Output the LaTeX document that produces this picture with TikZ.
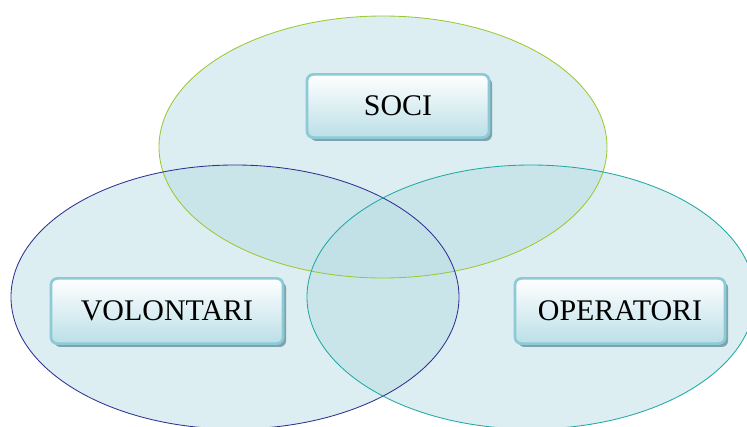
\documentclass[tikz,border=0pt]{standalone}
\usepackage{fontspec}
\setmainfont{Liberation Serif}
\usetikzlibrary{shadows}

\definecolor{setfill}{HTML}{B9DDE3}
\definecolor{sociline}{HTML}{9CC832}
\definecolor{volline}{HTML}{2E3192}
\definecolor{opline}{HTML}{1FA9A5}
\definecolor{boxline}{HTML}{8CCAD8}
\definecolor{boxlow}{HTML}{BBDFE7}
\definecolor{boxshadow}{HTML}{7EA3AC}

\tikzset{
  setarea/.style={fill=setfill, fill opacity=0.5},
  groupbox/.style={rectangle, rounded corners=0.16cm, draw=boxline, line width=1.9pt,
    top color=white, bottom color=boxlow, minimum height=1.58cm,
    font=\fontsize{21.3}{25}\selectfont, text=black,
    drop shadow={shadow xshift=2.2pt, shadow yshift=-2.4pt, fill=boxshadow, opacity=1}}
}

\begin{document}
\begin{tikzpicture}[x=0.025cm, y=-0.025cm]
  \useasboundingbox (0,0) rectangle (747,426);
  \begin{scope}
    \clip (0,0) rectangle (747,426);
    % three overlapping sets
    \fill[setarea] (383,147) ellipse [x radius=224, y radius=131];
    \fill[setarea] (235,297) ellipse [x radius=224, y radius=132];
    \fill[setarea] (531,297) ellipse [x radius=224, y radius=132];
    \draw[sociline, line width=0.6pt] (383,147) ellipse [x radius=224, y radius=131];
    \draw[volline, line width=0.6pt] (235,297) ellipse [x radius=224, y radius=132];
    \draw[opline, line width=0.6pt] (531,297) ellipse [x radius=224, y radius=132];
  \end{scope}

  % labels
  \node[groupbox, minimum width=4.55cm] (soci) at (398,106) {SOCI};
  \node[groupbox, minimum width=5.8cm, minimum height=1.63cm] (volontari) at (167,311) {VOLONTARI};
  \node[groupbox, minimum width=5.25cm, minimum height=1.63cm] (operatori) at (620,311) {OPERATORI};
\end{tikzpicture}
\end{document}
